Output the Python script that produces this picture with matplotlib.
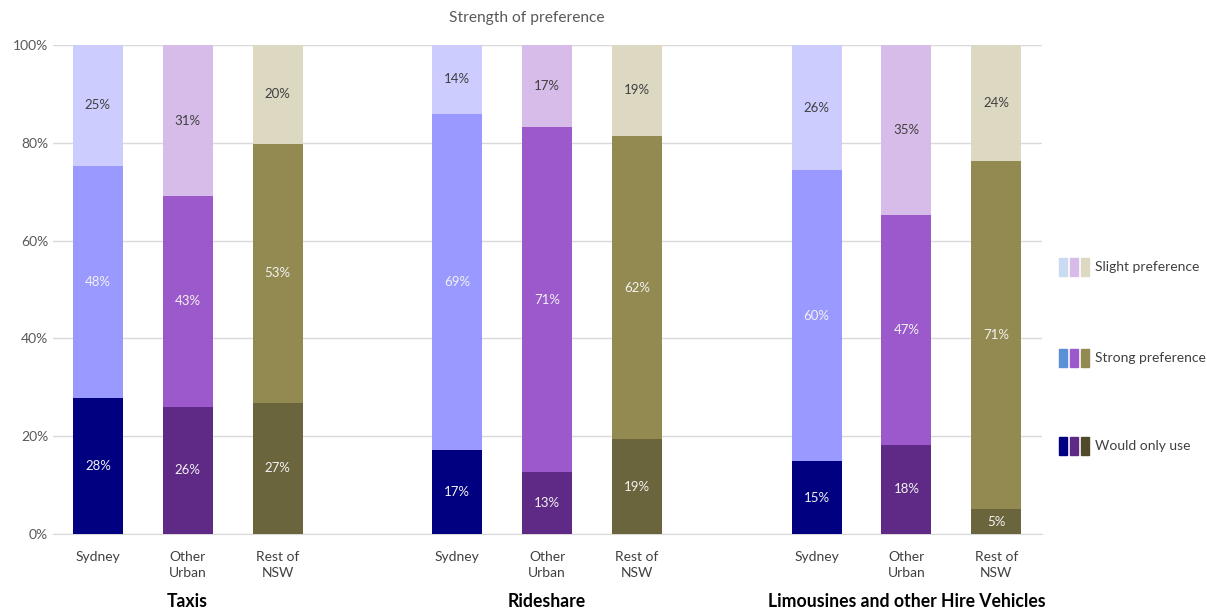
import numpy as np
import matplotlib.pyplot as plt
from matplotlib.patches import Rectangle

plt.rcParams['font.family'] = ['Lato', 'DejaVu Sans']

groups = ['Taxis', 'Rideshare', 'Limousines and other Hire Vehicles']
regions = ['Sydney', 'Other\nUrban', 'Rest of\nNSW']

# shares in % per bar (Taxis x3, Rideshare x3, Limo x3)
would_only = [27.8, 26.0, 26.8, 17.2, 12.7, 19.4, 14.9, 18.2, 5.1]
strong = [47.5, 43.1, 53.0, 68.7, 70.5, 62.0, 59.5, 47.0, 71.2]
slight = [24.7, 30.9, 20.2, 14.1, 16.8, 18.6, 25.6, 34.8, 23.7]
labels_would = [28, 26, 27, 17, 13, 19, 15, 18, 5]
labels_strong = [48, 43, 53, 69, 71, 62, 60, 47, 71]
labels_slight = [25, 31, 20, 14, 17, 19, 26, 35, 24]

# colours per region: would only, strong, slight
region_colors = {
    'Sydney': ['#000080', '#9999FF', '#CCCCFF'],
    'Other\nUrban': ['#5F2A86', '#9B59CB', '#D7BBE8'],
    'Rest of\nNSW': ['#6A653D', '#938A52', '#DCD8C2'],
}
legend_colors = [
    ['#C9DBF2', '#D7BBE8', '#DCD8C2'],
    ['#5B8FD8', '#9B59CB', '#938A52'],
    ['#000080', '#5F2A86', '#4F4A2A'],
]
legend_names = ['Slight preference', 'Strong preference', 'Would only use']

fig = plt.figure(figsize=(12.07, 6.14), dpi=100)
ax = fig.add_axes([0.0439, 0.1303, 0.8194, 0.7964])

x = []
for g in range(3):
    for r in range(3):
        x.append(g * 4 + r)
x = np.array(x)
w = 0.557

for i in range(9):
    c = region_colors[regions[i % 3]]
    b1 = would_only[i]
    b2 = b1 + strong[i]
    ax.bar(x[i], would_only[i], w, color=c[0], zorder=3)
    ax.bar(x[i], strong[i], w, bottom=b1, color=c[1], zorder=3)
    ax.bar(x[i], slight[i], w, bottom=b2, color=c[2], zorder=3)
    ax.text(x[i], b1 / 2, f'{labels_would[i]}%', ha='center', va='center',
            color='#F2F2F2', fontsize=9.5, zorder=4)
    ax.text(x[i], b1 + strong[i] / 2, f'{labels_strong[i]}%', ha='center', va='center',
            color='#F2F2F2', fontsize=9.5, zorder=4)
    ax.text(x[i], b2 + slight[i] / 2, f'{labels_slight[i]}%', ha='center', va='center',
            color='#404040', fontsize=9.5, zorder=4)

ax.set_xlim(-0.5, 10.51)
ax.set_ylim(0, 100)
ax.set_yticks([0, 20, 40, 60, 80, 100])
ax.set_yticklabels([f'{v}%' for v in [0, 20, 40, 60, 80, 100]])
ax.set_xticks(x)
ax.set_xticklabels([regions[i % 3] for i in range(9)], linespacing=1.45)
ax.tick_params(axis='both', length=0, colors='#595959', labelsize=10)
ax.tick_params(axis='x', pad=12, labelcolor='#404040')
ax.grid(axis='y', color='#D9D9D9', linewidth=1, zorder=0)
for s in ['top', 'right', 'left']:
    ax.spines[s].set_visible(False)
ax.spines['bottom'].set_color('#D9D9D9')

for g in range(3):
    ax.text(g * 4 + 1, -13.8, groups[g], ha='center', va='center',
            fontsize=12.7, fontweight='bold', color='black', transform=ax.transData)

fig.text(527 / 1207, 0.971, 'Strength of preference', ha='center', va='center',
         fontsize=11.2, color='#595959')

# legend drawn by hand
legend_y = [267, 358, 446]
for k in range(3):
    yc = 1 - legend_y[k] / 614
    for j in range(3):
        x0 = (1059 + j * 11) / 1207
        fig.patches.append(Rectangle((x0, yc - 9 / 614), 8 / 1207, 18 / 614,
                                     transform=fig.transFigure, color=legend_colors[k][j]))
    fig.text(1095 / 1207, yc, legend_names[k], ha='left', va='center',
             fontsize=10, color='#404040')

plt.savefig('out.png', dpi=100)
